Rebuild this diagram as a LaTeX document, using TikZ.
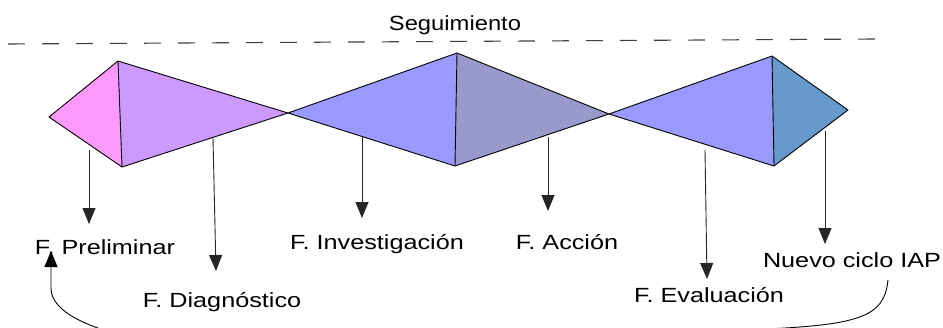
\documentclass[tikz,border=0pt]{standalone}
\usepackage{fontspec}
\setmainfont{Liberation Sans}
\usetikzlibrary{arrows.meta}
\definecolor{cPink}{HTML}{FF99FF}
\definecolor{cLilac}{HTML}{CC99FF}
\definecolor{cBlue}{HTML}{9999FF}
\definecolor{cGrey}{HTML}{9999CC}
\definecolor{cSteel}{HTML}{6699CC}
\newcommand{\widetext}[1]{\scalebox{1.23}[1]{#1}}
\tikzset{
  tri/.style={draw=black, line width=0.9pt, line join=round},
  lbl/.style={anchor=base, inner sep=0pt, font=\fontsize{20.5}{24}\selectfont},
  headtip/.tip={Triangle[length=16pt,width=13pt]},
  phasearrow/.style={draw=black!85, line width=0.9pt, -headtip},
  loopline/.style={draw=black, line width=0.9pt}
}
\begin{document}
\begin{tikzpicture}[x=1pt,y=-1pt]
\useasboundingbox (0,0) rectangle (943,327);
% vertices
\coordinate (L) at (49,117);
\coordinate (T1) at (118,61);
\coordinate (B1) at (122,167);
\coordinate (X1) at (288,113);
\coordinate (T2) at (457,53);
\coordinate (B2) at (455,166);
\coordinate (X2) at (609,114);
\coordinate (T3) at (772,56);
\coordinate (B3) at (774,166);
\coordinate (R) at (848,110);
% triangles
\fill[cPink] (L) -- (T1) -- (B1) -- cycle;
\fill[cLilac] (T1) -- (X1) -- (B1) -- cycle;
\fill[cBlue] (X1) -- (T2) -- (B2) -- cycle;
\fill[cGrey] (T2) -- (X2) -- (B2) -- cycle;
\fill[cBlue] (X2) -- (T3) -- (B3) -- cycle;
\fill[cSteel] (T3) -- (R) -- (B3) -- cycle;
\draw[tri] (L) -- (T1) -- (X1) -- (T2) -- (X2) -- (T3) -- (R) -- (B3) -- (X2) -- (B2) -- (X1) -- (B1) -- cycle;
\draw[tri] (T1) -- (B1);
\draw[tri] (T2) -- (B2);
\draw[tri] (T3) -- (B3);
% dashed line and title
\coordinate (dl) at (8,44);
\coordinate (dr) at (875,39);
\draw[black!75, line width=1.1pt, dash pattern=on 17pt off 17pt] (dl) -- (dr);
\node[lbl] (seg) at (455,30) {\scalebox{1.16}[1]{Seguimiento}};
% labels
\node[lbl] (pre) at (105,254) {\widetext{F. Preliminar}};
\node[lbl] (dia) at (222,307) {\widetext{F. Diagnóstico}};
\node[lbl] (inv) at (377,249) {\widetext{F. Investigación}};
\node[lbl] (acc) at (567,249) {\widetext{F. Acción}};
\node[lbl] (eva) at (709,302) {\widetext{F. Evaluación}};
\node[lbl] (nue) at (852,267) {\widetext{Nuevo ciclo IAP}};
% arrow start / end points
\coordinate (s1) at (89,150);  \coordinate (e1) at (89,224);
\coordinate (s2) at (213,138); \coordinate (e2) at (216,271);
\coordinate (s3) at (362,137); \coordinate (e3) at (362,218);
\coordinate (s4) at (548,137); \coordinate (e4) at (548,211);
\coordinate (s5) at (705,150); \coordinate (e5) at (707,279);
\coordinate (s6) at (825,131); \coordinate (e6) at (825,244);
\draw[phasearrow] (s1) -- (e1);
\draw[phasearrow] (s2) -- (e2);
\draw[phasearrow] (s3) -- (e3);
\draw[phasearrow] (s4) -- (e4);
\draw[phasearrow] (s5) -- (e5);
\draw[phasearrow] (s6) -- (e6);
% loop back
\coordinate (ls) at (888,280);
\coordinate (le) at (51,251);
\draw[loopline, -headtip] (ls) .. controls (884,318) and (860,326) .. (740,330) -- (110,332) .. controls (70,320) and (51,305) .. (51,288) -- (le);
\end{tikzpicture}
\end{document}
